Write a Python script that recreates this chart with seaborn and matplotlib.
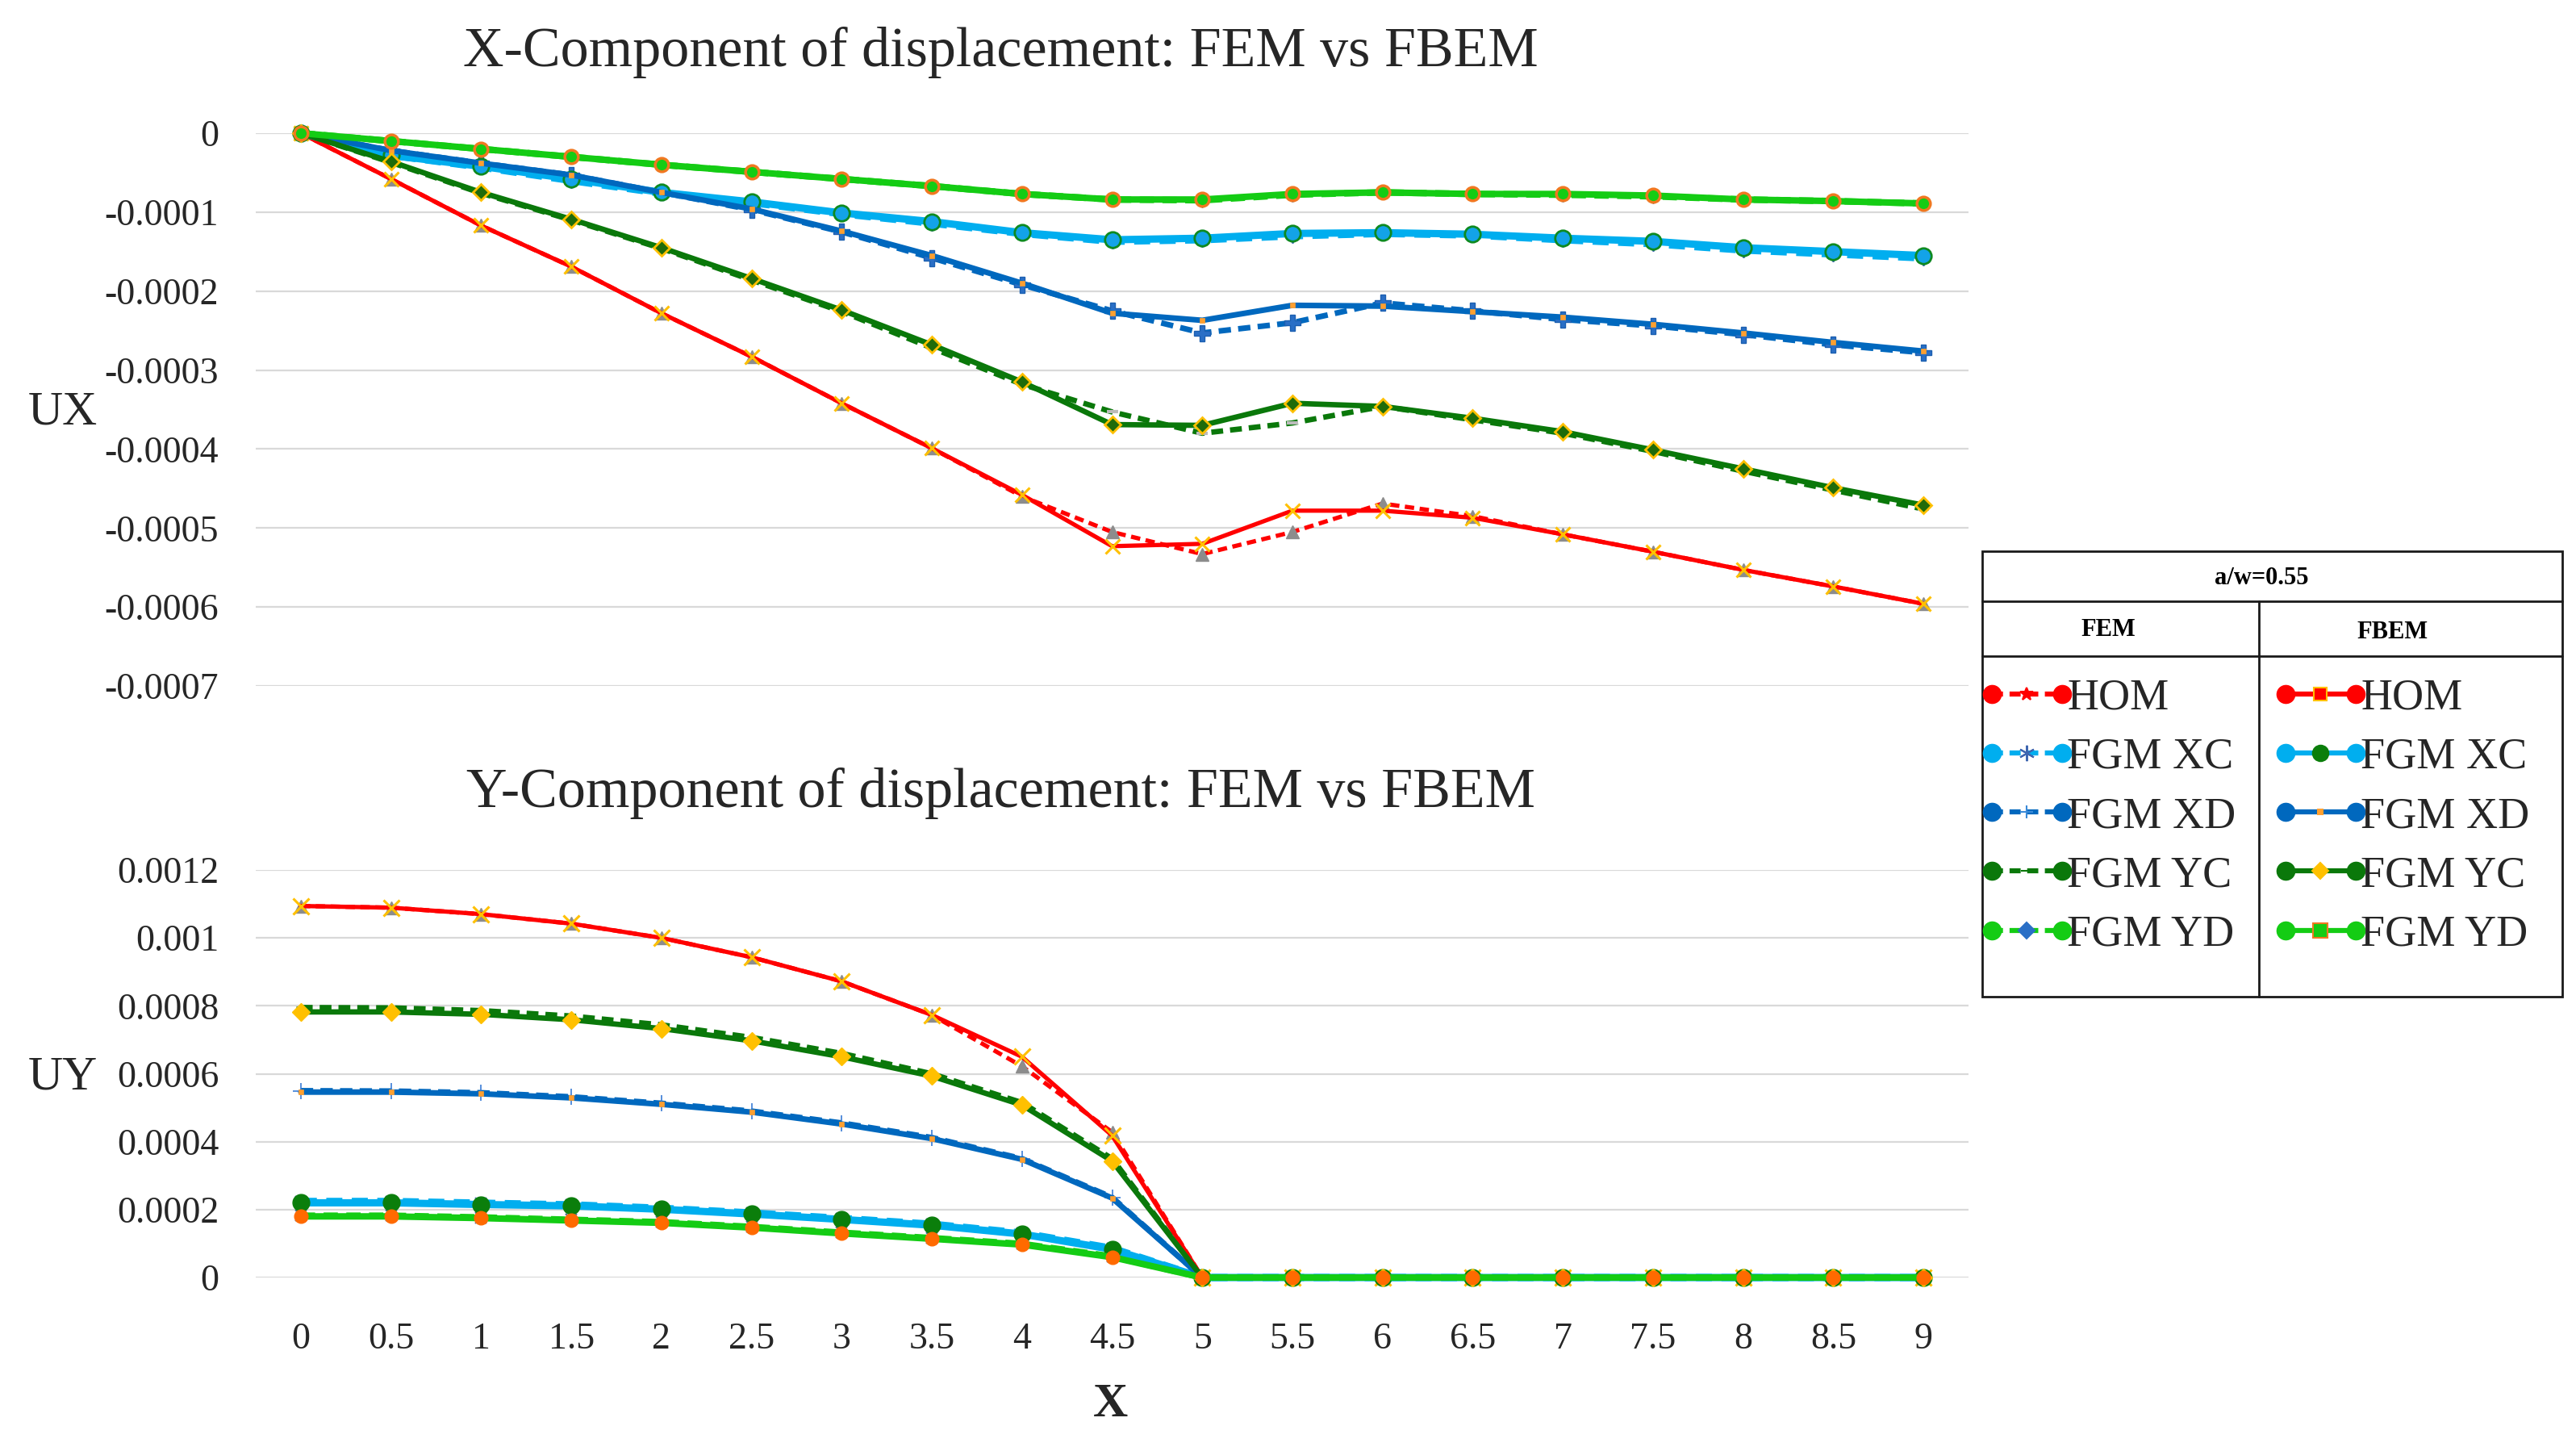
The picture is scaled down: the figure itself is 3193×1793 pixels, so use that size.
import numpy as np
import pandas as pd
import matplotlib
matplotlib.use("Agg")
import matplotlib.pyplot as plt
import seaborn as sns
from matplotlib.lines import Line2D
from matplotlib.patches import Rectangle
from matplotlib.legend_handler import HandlerLine2D, HandlerTuple

# ---------------- data ----------------
x_values = [0, 0.5, 1, 1.5, 2, 2.5, 3, 3.5, 4, 4.5, 5, 5.5, 6, 6.5, 7, 7.5, 8, 8.5, 9]
x_labels = ["0", "0.5", "1", "1.5", "2", "2.5", "3", "3.5", "4", "4.5", "5",
            "5.5", "6", "6.5", "7", "7.5", "8", "8.5", "9"]

# UX (units of 1e-4)
ux_fem_hom = [0, -0.58, -1.17, -1.69, -2.28, -2.83, -3.42, -3.99, -4.60, -5.05, -5.33, -5.05, -4.69, -4.85, -5.08, -5.30, -5.53, -5.74, -5.96]
ux_fbem_hom = [0, -0.58, -1.17, -1.69, -2.28, -2.83, -3.42, -3.99, -4.58, -5.23, -5.20, -4.78, -4.78, -4.87, -5.08, -5.30, -5.53, -5.74, -5.96]
ux_fem_xc = [0, -0.28, -0.43, -0.60, -0.76, -0.88, -1.02, -1.14, -1.27, -1.37, -1.35, -1.30, -1.27, -1.29, -1.35, -1.40, -1.48, -1.53, -1.58]
ux_fbem_xc = [0, -0.28, -0.42, -0.58, -0.75, -0.87, -1.01, -1.12, -1.26, -1.35, -1.33, -1.27, -1.26, -1.28, -1.33, -1.37, -1.45, -1.50, -1.55]
ux_fem_xd = [0, -0.22, -0.38, -0.53, -0.75, -0.97, -1.25, -1.58, -1.92, -2.25, -2.53, -2.40, -2.15, -2.25, -2.36, -2.44, -2.55, -2.68, -2.78]
ux_fbem_xd = [0, -0.22, -0.38, -0.53, -0.75, -0.96, -1.24, -1.55, -1.90, -2.28, -2.37, -2.18, -2.19, -2.26, -2.33, -2.42, -2.53, -2.65, -2.76]
ux_fem_yc = [0, -0.37, -0.76, -1.10, -1.46, -1.86, -2.26, -2.72, -3.18, -3.53, -3.80, -3.67, -3.46, -3.63, -3.80, -4.03, -4.28, -4.52, -4.76]
ux_fbem_yc = [0, -0.36, -0.75, -1.09, -1.45, -1.84, -2.24, -2.68, -3.15, -3.69, -3.70, -3.42, -3.46, -3.61, -3.78, -4.01, -4.25, -4.49, -4.71]
ux_fem_yd = [0, -0.10, -0.20, -0.30, -0.40, -0.49, -0.58, -0.67, -0.77, -0.84, -0.85, -0.78, -0.75, -0.77, -0.78, -0.80, -0.84, -0.86, -0.89]
ux_fbem_yd = [0, -0.10, -0.20, -0.30, -0.40, -0.49, -0.58, -0.67, -0.77, -0.84, -0.84, -0.77, -0.75, -0.77, -0.77, -0.79, -0.84, -0.86, -0.89]

# UY (units of 1e-3)
uy_fem_hom = [1.094, 1.089, 1.070, 1.042, 1.000, 0.943, 0.872, 0.773, 0.622, 0.428, 0, 0, 0, 0, 0, 0, 0, 0, 0]
uy_fbem_hom = [1.094, 1.089, 1.070, 1.042, 1.000, 0.943, 0.872, 0.773, 0.650, 0.418, 0, 0, 0, 0, 0, 0, 0, 0, 0]
uy_fem_xc = [0.224, 0.224, 0.219, 0.214, 0.204, 0.190, 0.174, 0.157, 0.131, 0.086, 0, 0, 0, 0, 0, 0, 0, 0, 0]
uy_fbem_xc = [0.220, 0.220, 0.215, 0.211, 0.201, 0.187, 0.171, 0.154, 0.128, 0.083, 0, 0, 0, 0, 0, 0, 0, 0, 0]
uy_fem_xd = [0.550, 0.549, 0.544, 0.532, 0.513, 0.490, 0.455, 0.412, 0.350, 0.236, 0, 0, 0, 0, 0, 0, 0, 0, 0]
uy_fbem_xd = [0.546, 0.546, 0.541, 0.529, 0.510, 0.487, 0.452, 0.409, 0.348, 0.234, 0, 0, 0, 0, 0, 0, 0, 0, 0]
uy_fem_yc = [0.795, 0.794, 0.786, 0.770, 0.744, 0.707, 0.660, 0.600, 0.515, 0.350, 0, 0, 0, 0, 0, 0, 0, 0, 0]
uy_fbem_yc = [0.782, 0.782, 0.775, 0.759, 0.733, 0.697, 0.650, 0.593, 0.508, 0.343, 0, 0, 0, 0, 0, 0, 0, 0, 0]
uy_fem_yd = [0.182, 0.182, 0.177, 0.170, 0.163, 0.149, 0.132, 0.116, 0.099, 0.062, 0, 0, 0, 0, 0, 0, 0, 0, 0]
uy_fbem_yd = [0.180, 0.180, 0.175, 0.168, 0.161, 0.147, 0.130, 0.114, 0.097, 0.060, 0, 0, 0, 0, 0, 0, 0, 0, 0]

ux_ticks = [0, -0.0001, -0.0002, -0.0003, -0.0004, -0.0005, -0.0006, -0.0007]
ux_tick_labels = ["0", "-0.0001", "-0.0002", "-0.0003", "-0.0004", "-0.0005", "-0.0006", "-0.0007"]
uy_ticks = [0, 0.0002, 0.0004, 0.0006, 0.0008, 0.001, 0.0012]
uy_tick_labels = ["0", "0.0002", "0.0004", "0.0006", "0.0008", "0.001", "0.0012"]

series_names = ["HOM", "FGM XC", "FGM XD", "FGM YC", "FGM YD"]
title_ux = "X-Component of displacement: FEM vs FBEM"
title_uy = "Y-Component of displacement: FEM vs FBEM"

# ---------------- style ----------------
sns.set_theme(style="white")
plt.rcParams["font.family"] = ["Liberation Serif", "DejaVu Serif"]
TXT = "#262626"

RED = "#FF0000"
LBLUE = "#00AEEF"
BLUE = "#0068BE"
DGREEN = "#0A780A"
BGREEN = "#14CC14"
GRAY = "#8C8C8C"
YELLOW = "#FFC000"
ORANGE = "#FF6A00"

line_w = {"HOM": 3.8, "FGM XC": 6.5, "FGM XD": 5.0, "FGM YC": 4.8, "FGM YD": 5.8}
colors = {"HOM": RED, "FGM XC": LBLUE, "FGM XD": BLUE, "FGM YC": DGREEN, "FGM YD": BGREEN}
DASH = (0, (2.2, 1.3))

# markers per chart: (marker, face, edge, size, edgewidth)
mk_ux_fem = {"HOM": ("^", GRAY, GRAY, 12, 1),
             "FGM XC": ((6, 2, 0), "#3E66B0", "#3E66B0", 13, 1.5),
             "FGM XD": ("P", "#2A6FC6", "#1B5FB0", 15, 1),
             "FGM YC": ("_", "#BBBBBB", "#BBBBBB", 10, 3),
             "FGM YD": ("d", "#2A6FC6", "#2A6FC6", 9, 1)}
mk_ux_fbem = {"HOM": ("x", YELLOW, YELLOW, 13, 2.2),
              "FGM XC": ("o", "#13A3E8", "#0E8A20", 14, 2),
              "FGM XD": ("s", "#FFA030", "#FFA030", 5, 0.5),
              "FGM YC": ("D", "#1F6B0A", YELLOW, 10, 2),
              "FGM YD": ("o", BGREEN, "#F07820", 12, 2.5)}
mk_uy_fem = {"HOM": ("^", GRAY, GRAY, 12, 1),
             "FGM XC": ("x", "#5578C8", "#5578C8", 10, 1.5),
             "FGM XD": ("+", "#3A7BD5", "#3A7BD5", 14, 1.2),
             "FGM YC": ("_", DGREEN, DGREEN, 8, 2),
             "FGM YD": ("x", "#4A6A9A", "#4A6A9A", 10, 1.5)}
mk_uy_fbem = {"HOM": ("x", YELLOW, YELLOW, 14, 2.2),
              "FGM XC": ("o", "#0B7E0B", "#0B7E0B", 15, 1),
              "FGM XD": ("s", "#FFA030", "#FFA030", 5, 0.5),
              "FGM YC": ("D", YELLOW, YELLOW, 11, 1),
              "FGM YD": ("o", ORANGE, ORANGE, 12, 1)}

W, H = 3193, 1793
fig = plt.figure(figsize=(W / 100, H / 100), dpi=100)
fig.patch.set_facecolor("white")


def fx(px):
    return px / W


def fy(py):
    return 1 - py / H


ax1 = fig.add_axes([fx(317), fy(850), fx(2440) - fx(317), fy(165) - fy(850)])
ax2 = fig.add_axes([fx(317), fy(1583), fx(2440) - fx(317), fy(1078) - fy(1583)])

ux_fem = [ux_fem_hom, ux_fem_xc, ux_fem_xd, ux_fem_yc, ux_fem_yd]
ux_fbem = [ux_fbem_hom, ux_fbem_xc, ux_fbem_xd, ux_fbem_yc, ux_fbem_yd]
uy_fem = [uy_fem_hom, uy_fem_xc, uy_fem_xd, uy_fem_yc, uy_fem_yd]
uy_fbem = [uy_fbem_hom, uy_fbem_xc, uy_fbem_xd, uy_fbem_yc, uy_fbem_yd]


def draw(ax, fem, fbem, scale, mk_fem, mk_fbem):
    for name, vals in zip(series_names, fem):
        m, fc, ec, ms, mew = mk_fem[name]
        df = pd.DataFrame({"x": x_values, "y": np.array(vals) * scale})
        sns.lineplot(data=df, x="x", y="y", ax=ax, color=colors[name],
                     linestyle=DASH, lw=line_w[name], marker=m, markersize=ms,
                     markerfacecolor=fc, markeredgecolor=ec, markeredgewidth=mew,
                     clip_on=False, zorder=3, estimator=None)
    for name, vals in zip(series_names, fbem):
        m, fc, ec, ms, mew = mk_fbem[name]
        df = pd.DataFrame({"x": x_values, "y": np.array(vals) * scale})
        sns.lineplot(data=df, x="x", y="y", ax=ax, color=colors[name],
                     linestyle="-", lw=line_w[name], marker=m, markersize=ms,
                     markerfacecolor=fc, markeredgecolor=ec, markeredgewidth=mew,
                     clip_on=False, zorder=4, estimator=None)


draw(ax1, ux_fem, ux_fbem, 1e-4, mk_ux_fem, mk_ux_fbem)
draw(ax2, uy_fem, uy_fbem, 1e-3, mk_uy_fem, mk_uy_fbem)

for ax, ticks, labels, lim in [(ax1, ux_ticks, ux_tick_labels, (-0.0007, 0)),
                               (ax2, uy_ticks, uy_tick_labels, (0, 0.0012))]:
    ax.set_xlim(-0.25, 9.25)
    ax.set_ylim(*lim)
    ax.set_yticks(ticks)
    ax.set_yticklabels(labels)
    ax.set_xticks(x_values)
    ax.set_xticklabels(x_labels)
    ax.set_xlabel("")
    ax.set_ylabel("")
    for s in ax.spines.values():
        s.set_visible(False)
    ax.set_axisbelow(True)
    ax.yaxis.grid(True, color="#D9D9D9", lw=1.6)
    ax.xaxis.grid(False)
    ax.tick_params(axis="both", length=0, labelsize=33, colors=TXT)
    ax.tick_params(axis="y", pad=33)
    ax.tick_params(axis="x", pad=40)
    ax.set_facecolor("white")

ax1.tick_params(axis="x", labelbottom=False)

# titles and axis labels
fig.text(fx(1240), fy(65), title_ux, ha="center", va="center", fontsize=50.5, color=TXT)
fig.text(fx(1240), fy(983), title_uy, ha="center", va="center", fontsize=50.5, color=TXT)
fig.text(fx(78), fy(511), "UX", ha="center", va="center", fontsize=43, color=TXT)
fig.text(fx(78), fy(1335), "UY", ha="center", va="center", fontsize=43, color=TXT)
fig.text(fx(1376), fy(1741), "X", ha="center", va="center", fontsize=43,
         fontweight="bold", color=TXT)

# ---------------- legend table ----------------
bx0, by0, bx1, by1 = 2457, 683, 3176, 1235
fig.add_artist(Rectangle((fx(bx0), fy(by1)), fx(bx1) - fx(bx0), fy(by0) - fy(by1),
                         transform=fig.transFigure, fill=False, ec="#1A1A1A", lw=2.0))
for yy in (745, 813):
    fig.add_artist(Line2D([fx(bx0), fx(bx1)], [fy(yy), fy(yy)],
                          transform=fig.transFigure, color="#1A1A1A", lw=2.0))
fig.add_artist(Line2D([fx(2800), fx(2800)], [fy(745), fy(by1)],
                      transform=fig.transFigure, color="#1A1A1A", lw=2.0))
fig.text(fx(2803), fy(716), "a/w=0.55", ha="center", va="center", fontsize=22,
         fontweight="bold", color="black")
fig.text(fx(2613), fy(781), "FEM", ha="center", va="center", fontsize=22,
         fontweight="bold", color="black")
fig.text(fx(2966), fy(784), "FBEM", ha="center", va="center", fontsize=22,
         fontweight="bold", color="black")

leg_fem_mid = {"HOM": ("*", RED, RED, 12), "FGM XC": ((6, 2, 0), "#3E66B0", "#3E66B0", 14),
               "FGM XD": ("+", "#3A8AD8", "#3A8AD8", 12), "FGM YC": ("_", DGREEN, DGREEN, 10),
               "FGM YD": ("D", "#2A6FC6", "#2A6FC6", 10)}
leg_fbem_mid = {"HOM": ("s", RED, YELLOW, 12), "FGM XC": ("o", "#0B7E0B", "#0B7E0B", 14),
                "FGM XD": ("s", "#FFA030", "#FFA030", 4), "FGM YC": ("D", YELLOW, YELLOW, 10),
                "FGM YD": ("s", BGREEN, "#F07820", 13)}


def legend_column(mids, ls, x_left, y_top):
    handles, hmap = [], {}
    for name in series_names:
        m, fc, ec, ms = mids[name]
        ends = Line2D([], [], linestyle="none", marker="o", color=colors[name],
                      markersize=16)
        mid = Line2D([], [], linestyle=ls, color=colors[name], lw=4.5, marker=m,
                     markerfacecolor=fc, markeredgecolor=ec, markersize=ms,
                     markeredgewidth=1.5)
        hmap[ends] = HandlerLine2D(numpoints=2, marker_pad=0)
        hmap[mid] = HandlerLine2D(numpoints=1)
        handles.append((mid, ends))
    hmap[tuple] = HandlerTuple(ndivide=1, pad=0)
    leg = fig.legend(handles=handles, labels=series_names, loc="upper left",
                     bbox_to_anchor=(fx(x_left), fy(y_top)), bbox_transform=fig.transFigure,
                     frameon=False, fontsize=39, handlelength=1.6, handletextpad=0.12,
                     labelspacing=0.42, borderpad=0, borderaxespad=0, handler_map=hmap)
    for t in leg.get_texts():
        t.set_color(TXT)
    return leg


legend_column(leg_fem_mid, DASH, 2469, 840)
legend_column(leg_fbem_mid, "-", 2833, 840)

fig.savefig("out.png", dpi=100, facecolor="white")
